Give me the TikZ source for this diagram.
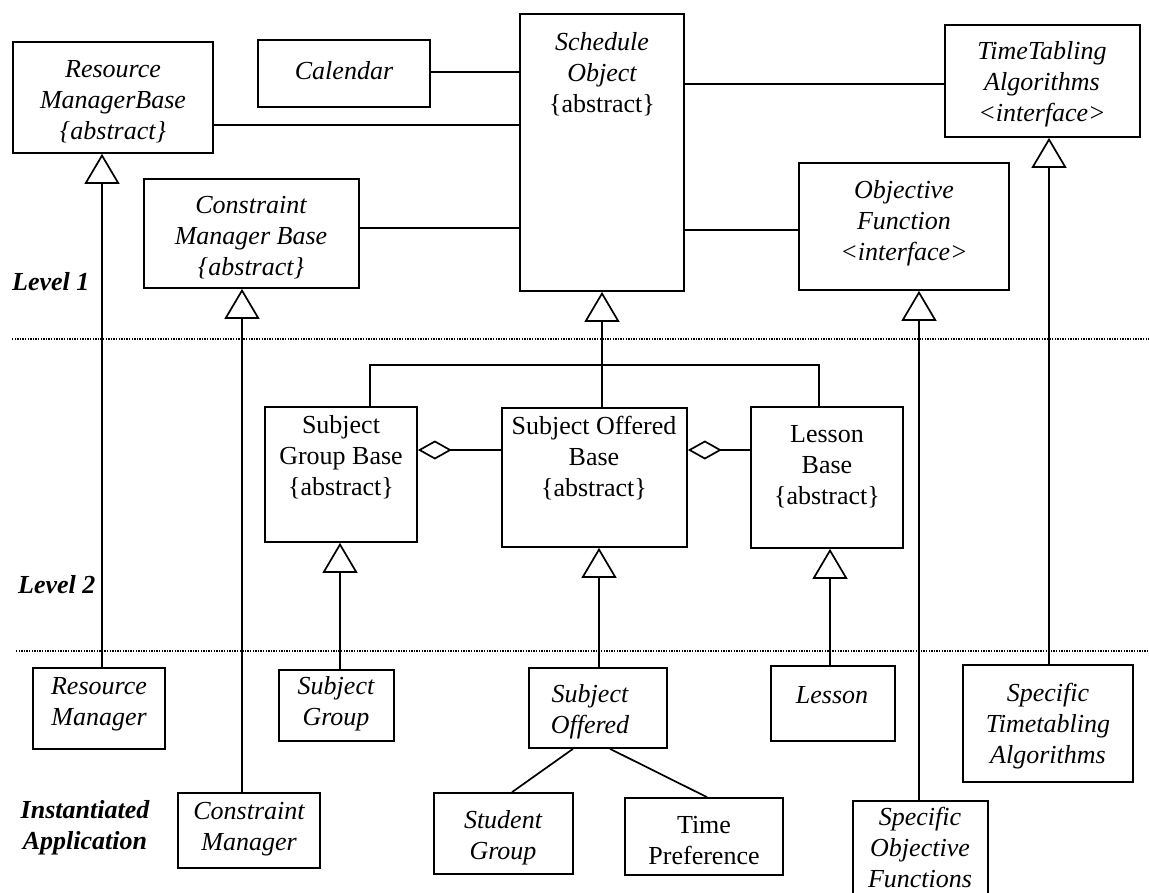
\documentclass[tikz,border=0pt]{standalone}
\usepackage{fontspec}
\setmainfont{Liberation Serif}
\usetikzlibrary{arrows.meta,fit}
\begin{document}
\begin{tikzpicture}[x=1pt,y=-1pt,
  box/.style={draw,line width=1.7pt,inner sep=0pt},
  txt/.style={align=center,inner sep=0pt,yshift=-2pt,font=\fontsize{26}{31}\selectfont},
  lvl/.style={align=center,inner sep=0pt,font=\fontsize{26}{31}\selectfont\bfseries\itshape},
  conn/.style={line width=1.7pt},
  inh/.style={conn,-{Triangle[open,length=30pt,width=35pt]}},
  agg/.style={conn,-{Diamond[open,length=34pt,width=19pt]}},
  sep/.style={line width=1.2pt,dash pattern=on 1.3pt off 1.3pt}
]
\useasboundingbox[fill=white] (0,0) rectangle (1149,893);

% Level 1 boxes
\node[box,fit={(13,42) (213,153)}] (rmb) {};
\node[txt] (rmbt) at (113,100) {\itshape Resource\\\itshape ManagerBase\\\itshape \{abstract\}};
\node[box,fit={(258,40) (430,107)}] (cal) {};
\node[txt] (calt) at (344,69) {\itshape Calendar};
\node[box,fit={(520,14) (684,291)}] (so) {};
\node[txt] (sot) at (602,72) {\itshape Schedule\\\itshape Object\\\{abstract\}};
\node[box,fit={(945,25) (1140,137)}] (tta) {};
\node[txt] (ttat) at (1042,82) {\itshape TimeTabling\\\itshape Algorithms\\\itshape \textless interface\textgreater};
\node[box,fit={(144,179) (359,288)}] (cmb) {};
\node[txt] (cmbt) at (251,236) {\itshape Constraint\\\itshape Manager Base\\\itshape \{abstract\}};
\node[box,fit={(799,163) (1009,290)}] (obj) {};
\node[txt] (objt) at (904,221) {\itshape Objective\\\itshape Function\\\itshape \textless interface\textgreater};

% Level 2 boxes
\node[box,fit={(265,407) (417,542)}] (sgb) {};
\node[txt] (sgbt) at (341,455) {Subject\\Group Base\\\{abstract\}};
\node[box,fit={(502,408) (687,547)}] (sob) {};
\node[txt] (sobt) at (594,456) {Subject Offered\\Base\\\{abstract\}};
\node[box,fit={(751,407) (903,548)}] (lb) {};
\node[txt] (lbt) at (827,465) {Lesson\\Base\\\{abstract\}};

% Instantiated boxes
\node[box,fit={(33,668) (165,749)}] (rm) {};
\node[txt] (rmt) at (99,702) {\itshape Resource\\\itshape Manager};
\node[box,fit={(279,670) (394,741)}] (sg) {};
\node[txt] (sgt) at (336,702) {\itshape Subject\\\itshape Group};
\node[box,fit={(529,668) (667,748)}] (sof) {};
\node[txt] (soft) at (590,710) {\itshape Subject\\\itshape Offered};
\node[box,fit={(771,666) (895,741)}] (les) {};
\node[txt] (lest) at (832,693) {\itshape Lesson};
\node[box,fit={(963,665) (1133,782)}] (sta) {};
\node[txt] (stat) at (1048,724) {\itshape Specific\\\itshape Timetabling\\\itshape Algorithms};
\node[box,fit={(178,793) (320,868)}] (cm) {};
\node[txt] (cmt) at (249,827) {\itshape Constraint\\\itshape Manager};
\node[box,fit={(434,793) (573,874)}] (stg) {};
\node[txt] (stgt) at (503,836) {\itshape Student\\\itshape Group};
\node[box,fit={(625,798) (783,875)}] (tp) {};
\node[txt] (tpt) at (704,839) {Time\\Preference};
\node[box,fit={(853,801) (988,897)}] (sfn) {};
\node[txt] (sfnt) at (920,845) {\itshape Specific\\\itshape Objective\\\itshape Functions};

% Level labels
\node[lvl,anchor=west] (l1) at (12,282) {Level 1};
\node[lvl,anchor=west] (l2) at (18,585) {Level 2};
\node[lvl] (ia) at (85,828) {Instantiated\\Application};

% separators
\draw[sep] (12,339) -- (1149,339);
\draw[sep] (16,651) -- (1149,651);

% associations
\draw[conn] (cal.east |- 0,72) -- (so.west |- 0,72);
\draw[conn] (rmb.east |- 0,125) -- (so.west |- 0,125);
\draw[conn] (cmb.east |- 0,228) -- (so.west |- 0,228);
\draw[conn] (so.east |- 0,84) -- (tta.west |- 0,84);
\draw[conn] (so.east |- 0,230) -- (obj.west |- 0,230);

% inheritance
\draw[inh] (rm.north -| 102,0) -- (rmb.south -| 102,0);
\draw[inh] (cm.north -| 242,0) -- (cmb.south -| 242,0);
\draw[inh] (sob.north -| 602,0) -- (so.south -| 602,0);
\draw[inh] (sfn.north -| 919,0) -- (obj.south -| 919,0);
\draw[inh] (sta.north -| 1049,0) -- (tta.south -| 1049,0);
\draw[inh] (sg.north -| 340,0) -- (sgb.south -| 340,0);
\draw[inh] (sof.north -| 599,0) -- (sob.south -| 599,0);
\draw[inh] (les.north -| 830,0) -- (lb.south -| 830,0);

% bracket
\draw[conn] (sgb.north -| 370,0) -- (370,365) -- (819,365) -- (lb.north -| 819,0);

% aggregation
\draw[agg] (sob.west |- 0,450) -- (sgb.east |- 0,450);
\draw[agg] (lb.west |- 0,450) -- (sob.east |- 0,450);

% subject offered links
\draw[conn] (sof.south -| 573,0) -- (stg.north -| 512,0);
\draw[conn] (sof.south -| 610,0) -- (tp.north -| 707,0);
\end{tikzpicture}
\end{document}
